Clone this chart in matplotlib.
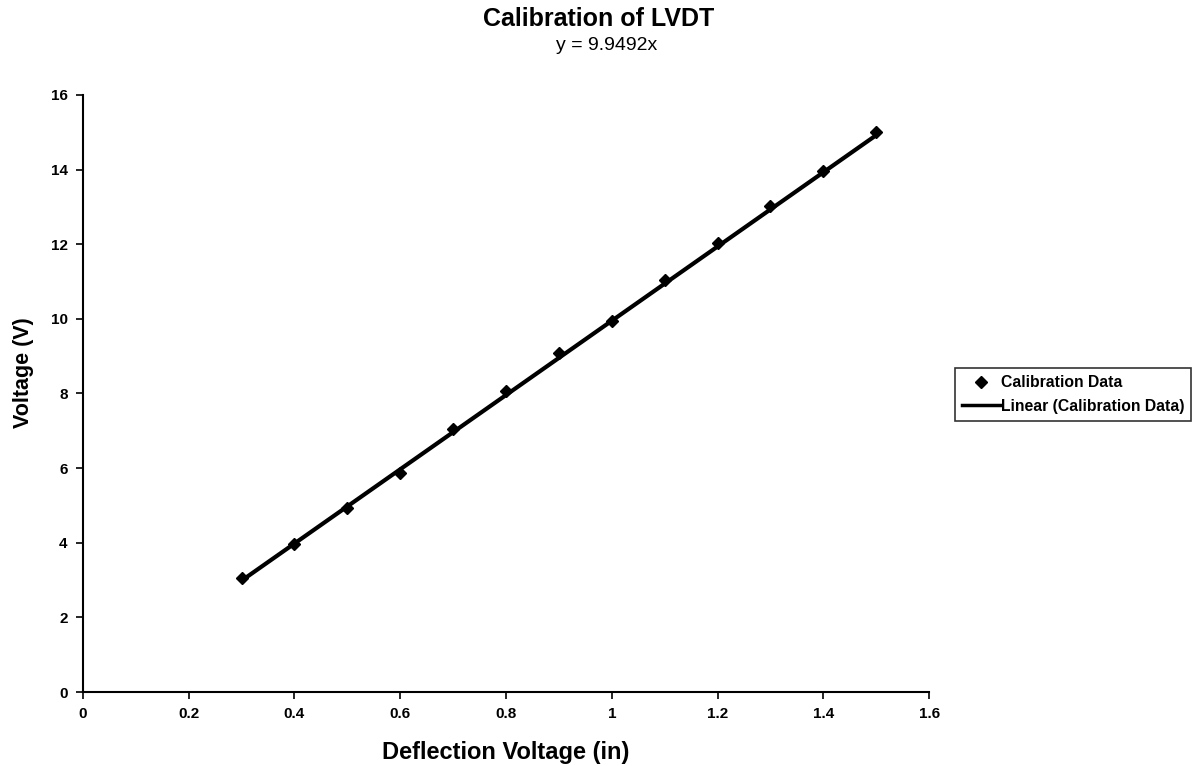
import numpy as np
import matplotlib
matplotlib.use("Agg")
import matplotlib.pyplot as plt
from matplotlib.lines import Line2D

plt.rcParams['font.family'] = ['Liberation Sans', 'DejaVu Sans']

# Calibration readings
deflection = [0.3, 0.4, 0.5, 0.6, 0.7, 0.8, 0.9, 1.0, 1.1, 1.2, 1.3, 1.4, 1.5]
voltage = [3.05, 3.97, 4.93, 5.87, 7.05, 8.07, 9.09, 9.95, 11.05, 12.04, 13.03, 13.97, 15.01]
slope = 9.9492  # least-squares slope through the origin

x_ticks = [0, 0.2, 0.4, 0.6, 0.8, 1.0, 1.2, 1.4, 1.6]
x_tick_labels = ['0', '0.2', '0.4', '0.6', '0.8', '1', '1.2', '1.4', '1.6']
y_ticks = [0, 2, 4, 6, 8, 10, 12, 14, 16]

fig = plt.figure(figsize=(12.02, 7.66), dpi=100)
ax = fig.add_axes([0.069, 0.0966, 0.704, 0.7794])

# trendline over the measured range, then the data markers on top
x_fit = np.array([min(deflection), max(deflection)])
ax.plot(x_fit, slope * x_fit, color='black', lw=3, solid_capstyle='butt', zorder=2)
ax.plot(deflection, voltage, linestyle='none', marker='D', ms=6.5,
        color='black', zorder=3)

ax.set_xlim(0, 1.6)
ax.set_ylim(0, 16)
ax.set_xticks(x_ticks)
ax.set_xticklabels(x_tick_labels)
ax.set_yticks(y_ticks)
for lab in ax.get_xticklabels() + ax.get_yticklabels():
    lab.set_fontweight('bold')
    lab.set_fontsize(11)
ax.tick_params(axis='both', direction='out', length=5, width=1.2, colors='black', pad=6)
ax.spines['top'].set_visible(False)
ax.spines['right'].set_visible(False)
ax.spines['left'].set_linewidth(1.5)
ax.spines['bottom'].set_linewidth(1.5)

ax.set_xlabel('Deflection Voltage (in)', fontsize=17, fontweight='bold')
ax.xaxis.set_label_coords(0.5, -0.082)
ax.set_ylabel('Voltage (V)', fontsize=15.5, fontweight='bold')
ax.yaxis.set_label_coords(-0.058, 0.535)

fig.text(0.498, 0.975, 'Calibration of LVDT', ha='center', va='center',
         fontsize=18, fontweight='bold')
fig.text(0.505, 0.940, f'y = {slope}x', ha='center', va='center', fontsize=14)

handles = [
    Line2D([], [], linestyle='none', marker='D', ms=6.5, color='black'),
    Line2D([], [], color='black', lw=2.5),
]
leg = fig.legend(handles, ['Calibration Data', 'Linear (Calibration Data)'],
                 loc='center left', bbox_to_anchor=(0.7945, 0.485),
                 frameon=True, fancybox=False, edgecolor='black',
                 prop={'weight': 'bold', 'size': 11.3}, handlelength=2.4,
                 handletextpad=0.05, borderpad=0.45, borderaxespad=0,
                 labelspacing=0.55)
leg.get_frame().set_linewidth(1.2)

fig.savefig('out.png', dpi=100, facecolor='white')
